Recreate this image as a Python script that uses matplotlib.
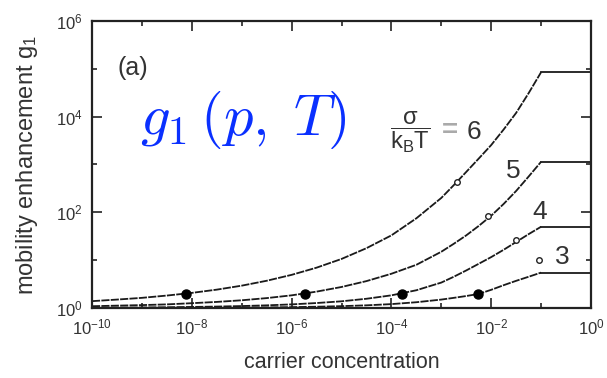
import matplotlib
matplotlib.use("Agg")
import matplotlib.pyplot as plt
import numpy as np
from matplotlib.ticker import FixedLocator, NullFormatter

plt.rcParams['font.family'] = ['Liberation Sans', 'DejaVu Sans']
plt.rcParams['mathtext.fontset'] = 'custom'
plt.rcParams['mathtext.rm'] = 'Liberation Sans'
plt.rcParams['mathtext.it'] = 'Liberation Sans:italic'
plt.rcParams['mathtext.bf'] = 'Liberation Sans:bold'
plt.rcParams['mathtext.default'] = 'it'

# carrier concentration (log10 of p) at which the curves were read
log_p = [-10, -9.5, -9, -8.5, -8, -7.5, -7, -6.5, -6, -5.5, -5, -4.5, -4,
         -3.5, -3, -2.75, -2.5, -2.25, -2, -1.75, -1.5, -1.25, -1]
# mobility enhancement g1, for sigma/kT = 6, 5, 4, 3
g_s6 = [1.39, 1.50, 1.63, 1.82, 2.07, 2.42, 2.93, 3.71, 4.93, 6.97, 10.6,
        17.8, 33.0, 75.0, 200, 370, 700, 1330, 2550, 5400, 12000, 31000, 85000]
g_s5 = [1.09, 1.12, 1.15, 1.19, 1.26, 1.34, 1.45, 1.61, 1.84, 2.20, 2.75,
        3.65, 5.2, 8.0, 15.0, 22, 33, 52, 85, 150, 280, 560, 1140]
g_s4 = [1.015, 1.020, 1.027, 1.037, 1.052, 1.071, 1.098, 1.136, 1.19, 1.27,
        1.38, 1.56, 1.84, 2.35, 3.4, 4.5, 6.1, 8.4, 11.6, 16.5, 24, 35, 50]
g_s3 = [1.002, 1.003, 1.004, 1.006, 1.009, 1.014, 1.020, 1.029, 1.043, 1.063,
        1.093, 1.137, 1.206, 1.32, 1.50, 1.63, 1.78, 1.97, 2.4, 3.0, 3.7, 4.5, 5.5]
sigma_labels = ['6', '5', '4', '3']
p_end = 1.0

# filled markers (one per curve)
filled_x = [7.5e-9, 1.85e-6, 1.6e-4, 5.4e-3]
filled_y = [2.0, 2.0, 2.0, 2.0]
# open markers (one per curve)
open_x = [2.05e-3, 8.5e-3, 3.15e-2, 9.0e-2]
open_y = [440, 85, 27, 10]

x_ticks = [1e-10, 1e-8, 1e-6, 1e-4, 1e-2, 1e0]
x_ticklabels = [r'$\mathregular{10^{-10}}$', r'$\mathregular{10^{-8}}$',
                r'$\mathregular{10^{-6}}$', r'$\mathregular{10^{-4}}$',
                r'$\mathregular{10^{-2}}$', r'$\mathregular{10^{0}}$']
x_minor = [1e-9, 1e-7, 1e-5, 1e-3, 1e-1]
y_ticks = [1e0, 1e2, 1e4, 1e6]
y_ticklabels = [r'$\mathregular{10^{0}}$', r'$\mathregular{10^{2}}$',
                r'$\mathregular{10^{4}}$', r'$\mathregular{10^{6}}$']
y_minor = [1e1, 1e3, 1e5]

fig = plt.figure(figsize=(6.07, 3.78), dpi=100)
ax = fig.add_axes([92/607, 1-308/378, 499/607, 287/378])

lc = '#1a1a1a'
p_vals = [10**v for v in log_p]
for g in [g_s6, g_s5, g_s4, g_s3]:
    ln, = ax.plot(p_vals, g, color=lc, lw=1.3)
    ln.set_dashes([4.5, 0.7])
    ax.plot([p_vals[-1], p_end], [g[-1], g[-1]], color=lc, lw=1.3)

ax.plot(filled_x, filled_y, 'o', color='black', ms=6.5, zorder=5)
ax.plot(open_x, open_y, 'o', mfc='white', mec='#222222', ms=4, mew=1.0, zorder=5)

ax.set_xscale('log')
ax.set_yscale('log')
ax.set_xlim(1e-10, 1e0)
ax.set_ylim(1e0, 1e6)
ax.xaxis.set_major_locator(FixedLocator(x_ticks))
ax.xaxis.set_minor_locator(FixedLocator(x_minor))
ax.yaxis.set_major_locator(FixedLocator(y_ticks))
ax.yaxis.set_minor_locator(FixedLocator(y_minor))
ax.set_xticklabels(x_ticklabels)
ax.set_yticklabels(y_ticklabels)
ax.xaxis.set_minor_formatter(NullFormatter())
ax.yaxis.set_minor_formatter(NullFormatter())
ax.tick_params(which='both', direction='in', top=True, right=True,
               width=1.2, color='#222222', labelsize=12, labelcolor='#333333')
ax.tick_params(which='major', length=7, pad=7)
ax.tick_params(which='minor', length=3.5)
for s in ax.spines.values():
    s.set_linewidth(1.6)
    s.set_color('#222222')

ax.set_xlabel('carrier concentration', fontsize=15.5, color='#333333', labelpad=10)
ax.set_ylabel(r'mobility enhancement $\mathregular{g_1}$', fontsize=17,
              color='#333333', labelpad=11)

fig.text(133/607, 1-68/378, '(a)', fontsize=18, color='#333333', ha='center', va='center')
fig.text(140/607, 1-120/378, r'$g_1\,(p,\;T)$', fontsize=42, color='#0a30ff',
         ha='left', va='center', math_fontfamily='cm')
fig.text(410/607, 1-132/378, r'$\dfrac{\mathregular{\sigma}}{\mathregular{k_B T}}$',
         fontsize=17, color='#333333', ha='center', va='center')
fig.text(450/607, 1-131/378, '=', fontsize=20, fontweight='bold', color='#aaaaaa',
         ha='center', va='center')

label_pos = [(474, 132), (513, 171), (540, 212), (562, 257)]
for lab, (px, py) in zip(sigma_labels, label_pos):
    fig.text(px/607, 1-py/378, lab, fontsize=19, color='#333333', ha='center', va='center')

fig.savefig('out.png', dpi=100)
